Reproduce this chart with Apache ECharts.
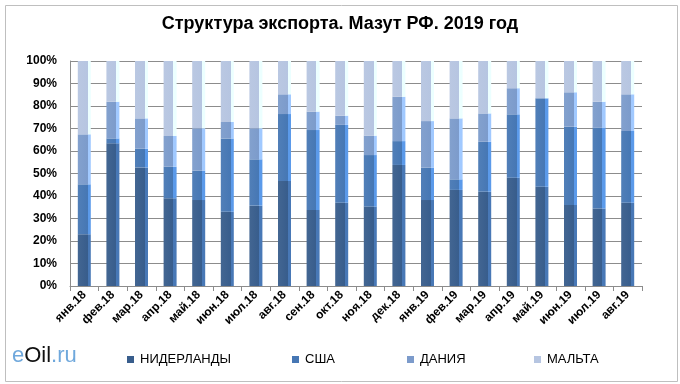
<!DOCTYPE html>
<html><head><meta charset="utf-8">
<script src="https://cdn.jsdelivr.net/npm/echarts@6/dist/echarts.min.js"></script>
<style>html,body{margin:0;padding:0;background:#fff}#c{width:680px;height:384px}</style>
</head><body><div id="c"></div>
<script>
const categories = ['янв.18','фев.18','мар.18','апр.18','май.18','июн.18','июл.18','авг.18','сен.18','окт.18','ноя.18','дек.18','янв.19','фев.19','мар.19','апр.19','май.19','июн.19','июл.19','авг.19'];
const netherlands = [23, 63.4, 52.7, 39, 38.2, 33, 35.7, 46.7, 33.8, 37, 35.3, 53.8, 38.2, 42.7, 41.9, 48.1, 44.1, 36, 34.5, 37];
const usa = [22.2, 2.2, 8.3, 14, 13.1, 32.6, 20.6, 29.7, 35.5, 34.6, 22.9, 10.6, 14.4, 4.7, 22.2, 28.2, 39.3, 34.8, 35.9, 31.9];
const denmark = [22.2, 16.3, 13.5, 13.7, 18.8, 7.3, 13.8, 8.8, 8.2, 4.1, 8.6, 19.7, 20.7, 27.1, 12.6, 11.6, 0, 15.3, 11.5, 16.3];
const malta = [32.6, 18.1, 25.5, 33.3, 29.9, 27.1, 29.9, 14.8, 22.5, 24.3, 33.2, 15.9, 26.7, 25.5, 23.3, 12.1, 16.6, 13.9, 18.1, 14.8];
const seriesNames = ['НИДЕРЛАНДЫ','США','ДАНИЯ','МАЛЬТА'];
const colors = ['#385d8c','#4677b4','#7c9bcb','#b6c5e1'];
const FONT = '"Liberation Sans", Arial, sans-serif';

const chart = echarts.init(document.getElementById('c'), null, {renderer:'canvas'});
const data = [netherlands, usa, denmark, malta];
function grad(c){
  return new echarts.graphic.LinearGradient(0,0,1,0,[
    {offset:0,color:echarts.color.lift(c,0.06)},
    {offset:0.75,color:c},
    {offset:0.76,color:echarts.color.lift(c,-0.3)},
    {offset:1,color:echarts.color.lift(c,-0.3)}
  ]);
}
const legendLefts = [122, 287, 402, 529];
chart.setOption({
  animation:false,
  backgroundColor:'#fff',
  title:{text:'Структура экспорта. Мазут РФ. 2019 год',left:'center',top:10,
    textStyle:{fontFamily:FONT,fontSize:18,fontWeight:'bold',color:'#000'}},
  legend: seriesNames.map((n,i)=>({bottom:13,left:legendLefts[i],itemWidth:7,itemHeight:7,icon:'rect',itemGap:0,
    itemStyle:{color:colors[i]},
    textStyle:{fontFamily:FONT,fontSize:13,color:'#000',padding:[0,0,0,1]},data:[n]})),
  grid:{left:70,right:38,top:61,bottom:98},
  xAxis:{type:'category',data:categories,
    axisLine:{lineStyle:{color:'#8c8c8c'}},axisTick:{show:true,lineStyle:{color:'#8c8c8c'}},
    axisLabel:{rotate:45,interval:0,fontFamily:FONT,fontSize:12,fontWeight:'bold',color:'#000',margin:7}},
  yAxis:{type:'value',min:0,max:100,interval:10,
    axisLabel:{formatter:'{value}%',fontFamily:FONT,fontSize:12,fontWeight:'bold',color:'#000',margin:13},
    axisLine:{show:true,lineStyle:{color:'#8c8c8c'}},axisTick:{show:false},
    splitLine:{lineStyle:{color:'#8c8c8c',width:1}}},
  series: seriesNames.map((n,i)=>({
    name:n,type:'bar',stack:'s',barWidth:13,data:data[i],color:colors[i],
    itemStyle:{color:grad(colors[i])}
  })),
  graphic:[
    {type:'rect',left:3,top:3,shape:{width:672,height:376},style:{fill:'none',stroke:'#bfbfbf',lineWidth:1},z:-1},
    {type:'text',left:12,top:345,style:{rich:{a:{fill:'#6fa8dc',fontSize:22,fontFamily:'Liberation Sans, Arial'},b:{fill:'#111',fontSize:22,fontFamily:'Liberation Sans, Arial'}},text:'{a|e}{b|Oil}{a|.ru}'}}
  ]
});
</script></body></html>
